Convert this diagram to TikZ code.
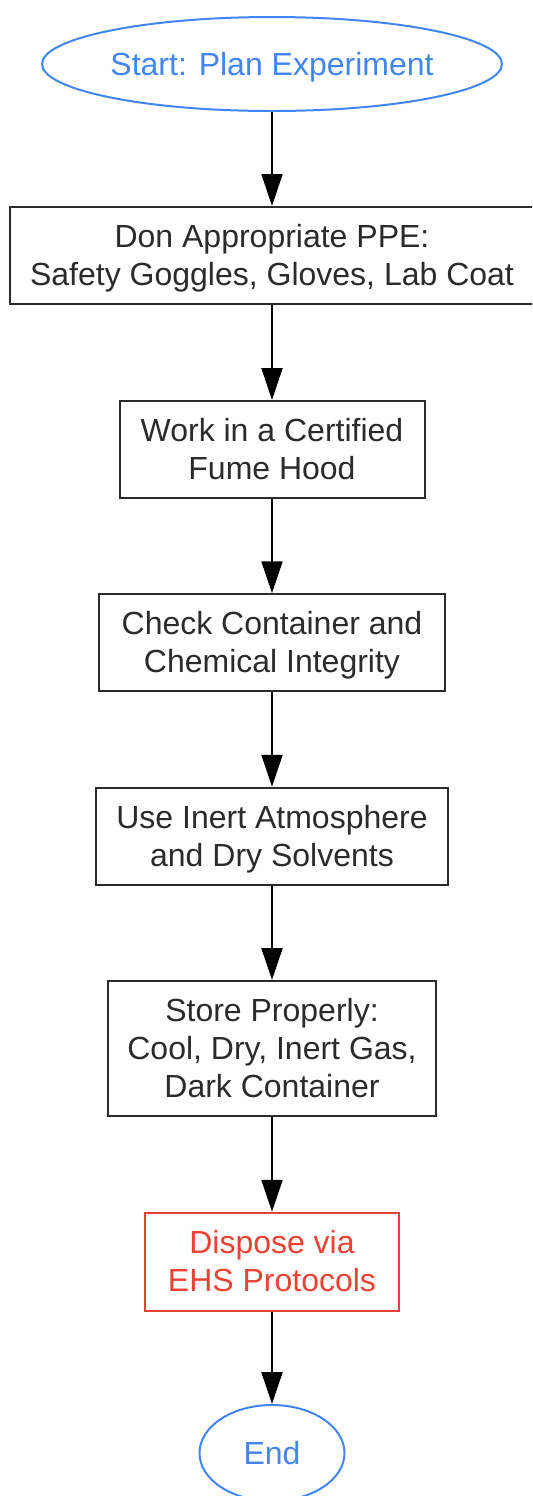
\documentclass[tikz,border=0pt]{standalone}
\usepackage{fontspec}
\setmainfont{Liberation Sans}
\usetikzlibrary{shapes.geometric,arrows.meta}
\definecolor{gblue}{HTML}{4285F4}
\definecolor{gred}{HTML}{EA4335}
\definecolor{ink}{HTML}{2B2B2B}
\newcommand{\tstr}{\rule{0pt}{15.04pt}}
\newcommand{\bstr}{\rule[-3.95pt]{0pt}{3.95pt}}
\tikzset{
  txt/.style={font=\fontsize{16pt}{19pt}\selectfont, align=center, inner sep=0pt},
  term/.style={txt, ellipse, draw=gblue, text=gblue, line width=1pt},
  stepbox/.style={txt, rectangle, draw=ink, text=ink, line width=1pt, minimum height=48.5pt},
  warnbox/.style={txt, rectangle, draw=gred, text=gred, line width=1pt, minimum height=49pt},
  flow/.style={draw=black, line width=1pt, -{Triangle[length=16pt,width=10.5pt]}}
}
\begin{document}
\begin{tikzpicture}[x=0.5pt,y=-0.5pt]
\useasboundingbox (0,0) rectangle (532,1496);
\clip (0,0) rectangle (532,1496);
\node[term, minimum width=230pt, minimum height=47pt] (start) at (272,64) {\tstr Start: Plan Experiment\bstr};
\node[stepbox, minimum width=262pt] (ppe) at (272,255.5) {\tstr Don Appropriate PPE:\\Safety Goggles, Gloves, Lab Coat\bstr};
\node[stepbox, minimum width=152.5pt] (hood) at (272,449.5) {\tstr Work in a Certified\\Fume Hood\bstr};
\node[stepbox, minimum width=172.75pt] (check) at (272,642.75) {\tstr Check Container and\\Chemical Integrity\bstr};
\node[stepbox, minimum width=175.75pt] (inert) at (272,836.25) {\tstr Use Inert Atmosphere\\and Dry Solvents\bstr};
\node[stepbox, minimum width=163.75pt, minimum height=67.5pt] (store) at (272,1048.5) {\tstr Store Properly:\\Cool, Dry, Inert Gas,\\Dark Container\bstr};
\node[warnbox, minimum width=127pt] (dispose) at (272,1261.75) {\tstr Dispose via\\EHS Protocols\bstr};
\node[term, minimum width=72.5pt, minimum height=48pt] (end) at (272,1453) {\tstr End\bstr};
\draw[flow] (start) -- (ppe);
\draw[flow] (ppe) -- (hood);
\draw[flow] (hood) -- (check);
\draw[flow] (check) -- (inert);
\draw[flow] (inert) -- (store);
\draw[flow] (store) -- (dispose);
\draw[flow] (dispose) -- (end);
\end{tikzpicture}
\end{document}
